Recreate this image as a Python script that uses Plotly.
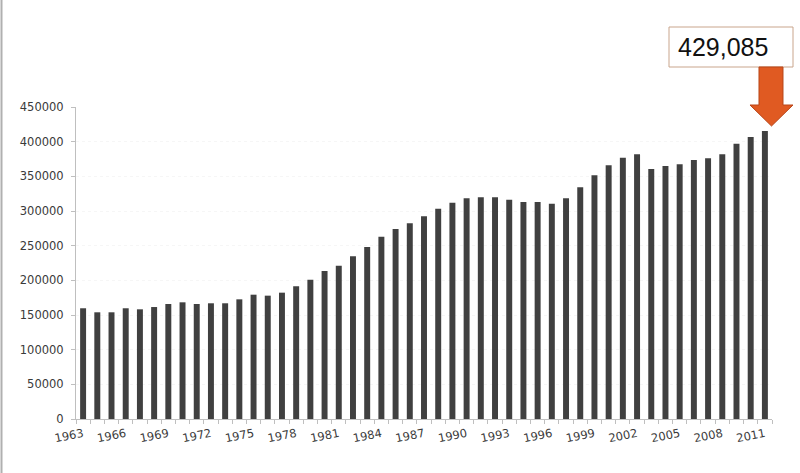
import plotly.graph_objects as go

years = list(range(1963, 2012))
values = [
    159700, 153900, 153900, 159700, 158200, 161500, 165900, 168300, 165900, 166900,
    166900, 172600, 179300, 177900, 182200, 191400, 200900, 213500, 221200, 234700,
    248000, 263000, 274000, 282300, 292400, 303400, 312000, 318300, 319800, 319800,
    316400, 313000, 313000, 310600, 318300, 334200, 351500, 365900, 376900, 381700,
    360600, 364900, 367300, 373600, 376000, 381700, 397100, 406700, 415400,
]
label_years = years[::3]
callout_text = "429,085"

W, H = 800, 473
ML, MR, MT, MB = 76, 28, 107, 54
PW, PH = W - ML - MR, H - MT - MB


def px(x):
    return (x - ML) / PW


def py(y):
    return (H - MB - y) / PH


fig = go.Figure()
fig.add_trace(go.Bar(
    x=years, y=values, width=0.42,
    marker=dict(color="#404040", line=dict(width=0)),
    hoverinfo="x+y",
))

axis_font = dict(family="DejaVu Sans, Verdana, sans-serif", size=11.5, color="#3a3a3a")

fig.update_xaxes(
    range=[1962.5, 2011.5],
    tickmode="array", tickvals=label_years, ticktext=[str(y) for y in label_years],
    ticks="", tickangle=-11, tickfont=axis_font, ticklabelstandoff=3,
    showline=True, linecolor="#bfbfbf", linewidth=1,
    showgrid=False, zeroline=False,
    minor=dict(tickmode="array", tickvals=[y - 0.5 for y in years] + [years[-1] + 0.5],
               ticks="outside", ticklen=4, tickcolor="#bfbfbf", showgrid=False),
)
fig.update_yaxes(
    range=[0, 450000], tickmode="linear", tick0=0, dtick=50000,
    tickformat="d", ticks="outside", ticklen=4, tickcolor="#bfbfbf",
    tickfont=axis_font, ticklabelstandoff=5,
    showline=True, linecolor="#bfbfbf", linewidth=1,
    showgrid=True, gridcolor="#f6f6f6", griddash="dot", zeroline=False,
)

shapes = [
    # left frame edge
    dict(type="line", xref="paper", yref="paper",
         x0=px(1.5), x1=px(1.5), y0=py(H), y1=py(0),
         line=dict(color="#b0b0b0", width=2)),
    # callout box
    dict(type="rect", xref="paper", yref="paper",
         x0=px(669), x1=px(793), y0=py(67), y1=py(27),
         fillcolor="white", line=dict(color="#c9a58c", width=1)),
]
arrow_pts = [(759, 67), (783, 67), (783, 105), (793, 105), (771.5, 126), (750, 105), (759, 105)]
path = "M " + " L ".join(f"{px(a):.5f},{py(b):.5f}" for a, b in arrow_pts) + " Z"
shapes.append(dict(type="path", xref="paper", yref="paper", path=path,
                   fillcolor="#e05a22", line=dict(color="#b8461a", width=1)))

fig.update_layout(
    width=W, height=H,
    margin=dict(l=ML, r=MR, t=MT, b=MB),
    paper_bgcolor="white", plot_bgcolor="white",
    showlegend=False,
    shapes=shapes,
    annotations=[dict(
        text=callout_text, xref="paper", yref="paper",
        x=px(676), y=py(47), xanchor="left", yanchor="middle",
        showarrow=False,
        font=dict(family="Liberation Sans, Arial, sans-serif", size=25, color="#111111"),
    )],
)

fig.write_html(
    "out.html",
    config={"displayModeBar": False},
    post_script="document.body.style.margin='0';document.body.style.overflow='hidden';",
)
